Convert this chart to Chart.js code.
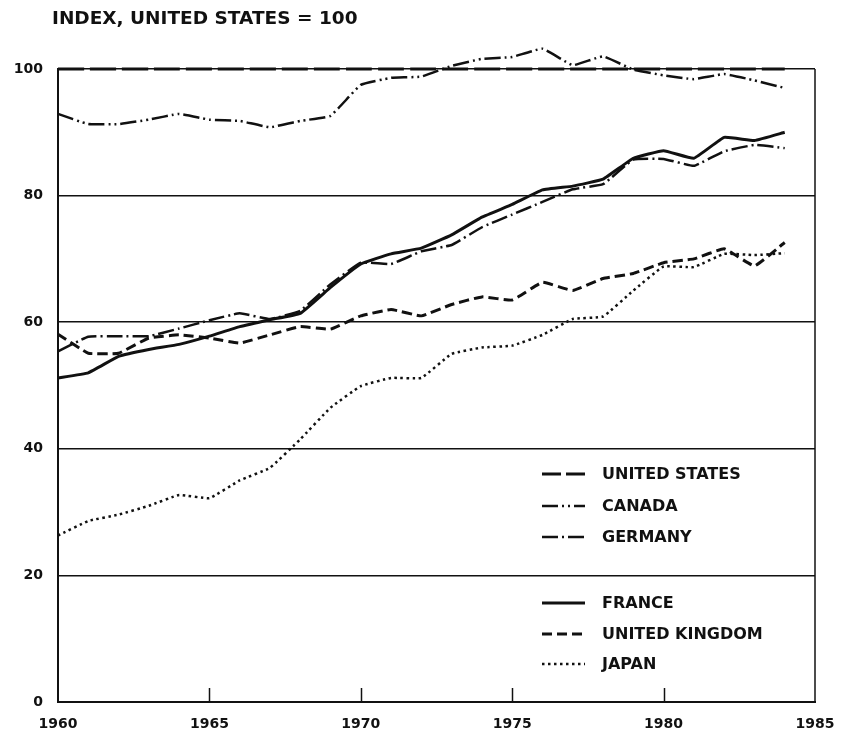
<!DOCTYPE html>
<html>
<head>
<meta charset="utf-8">
<title>Index, United States = 100</title>
<script src="https://cdn.jsdelivr.net/npm/chart.js@4.4.1/dist/chart.umd.min.js"></script>
<style>
  html, body { margin: 0; padding: 0; background: #fff; }
  #wrap { width: 855px; height: 734px; }
</style>
</head>
<body>
<div id="wrap"><canvas id="chart" width="855" height="734"></canvas></div>
<script>
// Index values, United States = 100
const years = [1960, 1961, 1962, 1963, 1964, 1965, 1966, 1967, 1968, 1969,
               1970, 1971, 1972, 1973, 1974, 1975, 1976, 1977, 1978, 1979,
               1980, 1981, 1982, 1983, 1984];
const unitedStates = [100, 100, 100, 100, 100, 100, 100, 100, 100, 100,
                      100, 100, 100, 100, 100, 100, 100, 100, 100, 100,
                      100, 100, 100, 100, 100];
const canada = [92.9, 91.3, 91.3, 92.0, 92.9, 92.0, 91.8, 90.8, 91.8, 92.6,
                97.5, 98.6, 98.8, 100.5, 101.6, 101.9, 103.2, 100.6, 102.0, 99.9,
                99.0, 98.4, 99.2, 98.2, 97.0];
const germany = [55.4, 57.7, 57.8, 57.8, 59.0, 60.3, 61.4, 60.5, 61.8, 66.0,
                 69.4, 69.2, 71.2, 72.2, 75.0, 77.0, 79.0, 81.0, 81.8, 85.7,
                 85.8, 84.7, 87.0, 88.0, 87.5];
const france = [51.2, 52.0, 54.6, 55.7, 56.5, 57.8, 59.3, 60.4, 61.4, 65.5,
                69.2, 70.8, 71.7, 73.8, 76.6, 78.6, 80.9, 81.5, 82.6, 85.9,
                87.1, 85.9, 89.2, 88.7, 90.0];
const unitedKingdom = [58.1, 55.1, 55.1, 57.5, 58.0, 57.5, 56.7, 58.0, 59.3, 58.9,
                       61.0, 62.0, 61.0, 62.8, 64.0, 63.5, 66.3, 65.0, 66.9, 67.7,
                       69.4, 70.0, 71.6, 68.9, 72.6];
const japan = [26.3, 28.6, 29.6, 31.0, 32.7, 32.2, 35.0, 37.0, 41.5, 46.5,
               49.9, 51.2, 51.2, 55.0, 56.0, 56.3, 58.0, 60.5, 60.9, 65.0,
               68.8, 68.7, 70.8, 70.6, 70.9];

const yTicks = [0, 20, 40, 60, 80, 100];
const xTicks = [1960, 1965, 1970, 1975, 1980, 1985];
const innerTicks = [1965, 1970, 1975, 1980];

const INK = '#111';
const FONT = '"DejaVu Sans", sans-serif';

function points(values) {
    return years.map((yr, i) => ({ x: yr, y: values[i] }));
}

function series(label, values, dash, width) {
    return {
        label: label,
        data: points(values),
        borderColor: INK,
        borderWidth: width,
        borderDash: dash,
        pointRadius: 0,
        tension: 0.1,
        fill: false,
        clip: false
    };
}

const datasets = [
    series('UNITED STATES', unitedStates, [26, 6], 3),
    series('CANADA', canada, [16, 4, 2, 4, 2, 4], 2.5),
    series('GERMANY', germany, [16, 4, 2, 4], 2.5),
    series('FRANCE', france, [], 3),
    series('UNITED KINGDOM', unitedKingdom, [10, 5], 3),
    series('JAPAN', japan, [2.5, 3.5], 2.5)
];

// legend rows: two groups, separated by the 20 gridline
const legendRows = [
    { index: 0, y: 474 },
    { index: 1, y: 506 },
    { index: 2, y: 537 },
    { index: 3, y: 603 },
    { index: 4, y: 634 },
    { index: 5, y: 664 }
];

const framePlugin = {
    id: 'frame',
    beforeDatasetsDraw(chart) {
        const ctx = chart.ctx;
        const area = chart.chartArea;
        const xs = chart.scales.x;
        ctx.save();
        ctx.strokeStyle = INK;
        // right border
        ctx.lineWidth = 1.5;
        ctx.beginPath();
        ctx.moveTo(area.right, area.top);
        ctx.lineTo(area.right, area.bottom);
        ctx.stroke();
        // short ticks pointing up from the bottom axis
        innerTicks.forEach(v => {
            const px = Math.round(xs.getPixelForValue(v)) + 0.5;
            ctx.beginPath();
            ctx.moveTo(px, area.bottom);
            ctx.lineTo(px, area.bottom - 14);
            ctx.stroke();
        });
        ctx.restore();
    },
    afterDraw(chart) {
        const ctx = chart.ctx;
        ctx.save();
        // title
        ctx.fillStyle = INK;
        ctx.font = 'bold 18.5px ' + FONT;
        ctx.textBaseline = 'middle';
        ctx.textAlign = 'left';
        ctx.fillText('INDEX, UNITED STATES = 100', 52, 19);

        // legend
        ctx.font = 'bold 16px ' + FONT;
        legendRows.forEach(row => {
            const ds = chart.data.datasets[row.index];
            ctx.strokeStyle = INK;
            ctx.lineWidth = ds.borderWidth;
            ctx.setLineDash(row.index === 0 ? [19, 5] : ds.borderDash);
            ctx.beginPath();
            ctx.moveTo(542, row.y);
            ctx.lineTo(585, row.y);
            ctx.stroke();
            ctx.setLineDash([]);
            ctx.fillText(ds.label, 602, row.y + 1);
        });
        ctx.restore();
    }
};

new Chart(document.getElementById('chart'), {
    type: 'line',
    data: { datasets: datasets },
    options: {
        responsive: false,
        animation: false,
        layout: { padding: { top: 69, right: 40, left: 0, bottom: 0 } },
        plugins: {
            legend: { display: false },
            title: { display: false },
            tooltip: { enabled: false }
        },
        scales: {
            x: {
                type: 'linear',
                min: 1960,
                max: 1985,
                afterFit: scale => { scale.height = 32; },
                afterBuildTicks: scale => { scale.ticks = xTicks.map(v => ({ value: v })); },
                ticks: {
                    color: INK,
                    font: { family: FONT, size: 14, weight: 'bold' },
                    padding: 14,
                    maxRotation: 0,
                    callback: v => String(v)
                },
                grid: { display: false, drawTicks: false },
                border: { display: true, color: INK, width: 2 }
            },
            y: {
                min: 0,
                max: 100,
                afterFit: scale => { scale.width = 58; },
                afterBuildTicks: scale => { scale.ticks = yTicks.map(v => ({ value: v })); },
                ticks: {
                    color: INK,
                    font: { family: FONT, size: 14, weight: 'bold' },
                    padding: 15
                },
                grid: { color: INK, lineWidth: 1.5, drawTicks: false },
                border: { display: true, color: INK, width: 2 }
            }
        }
    },
    plugins: [framePlugin]
});
</script>
</body>
</html>
